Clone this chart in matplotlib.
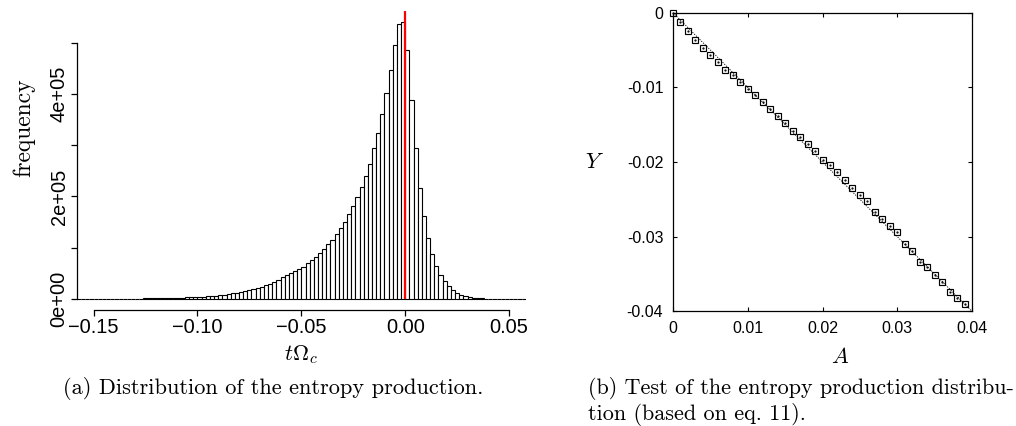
import numpy as np
import matplotlib
matplotlib.use("Agg")
import matplotlib.pyplot as plt

# histogram of t*Omega_c, bins of width 0.002 from -0.158 to 0.058
bin_lo = -0.158
bin_w = 0.002
counts = [
    145, 162, 182, 205, 230, 258, 290, 325, 365, 410,
    460, 515, 580, 650, 730, 820, 920, 1030, 1160, 1300,
    1470, 1650, 1850, 2100, 2350, 2600, 2950, 3300, 3700, 4200,
    4700, 5250, 5900, 6650, 7500, 8400, 9400, 10600, 11900, 13300,
    15000, 16800, 18900, 21200, 23800, 26700, 30000, 33500, 37500, 41800,
    46400, 49700, 53600, 58200, 62700, 69300, 75200, 81700, 88900, 96700,
    106500, 115700, 126100, 138600, 151000, 165400, 181000, 198000, 217600, 240500,
    264100, 294100, 324200, 361400, 400700, 446400, 495400, 536000, 540000, 485600,
    388200, 293500, 216300, 160800, 119600, 88200, 64000, 47000, 34000, 24800,
    17600, 12400, 8500, 5200, 3300, 2000, 1300, 900, 650, 450,
    320, 230, 160, 110, 80, 55, 40, 28,
]
hist_xticks = [-0.15, -0.10, -0.05, 0.00, 0.05]
hist_xlabels = ["\u22120.15", "\u22120.10", "\u22120.05", "0.00", "0.05"]
hist_yticks = [0, 100000, 200000, 300000, 400000, 500000]
hist_ylabels = ["0e+00", "", "2e+05", "", "4e+05", ""]

# entropy production test: Y against A
A = [0.000, 0.001, 0.002, 0.003, 0.004, 0.005, 0.006, 0.007, 0.008, 0.009,
     0.010, 0.011, 0.012, 0.013, 0.014, 0.015, 0.016, 0.017, 0.018, 0.019,
     0.020, 0.021, 0.022, 0.023, 0.024, 0.025, 0.026, 0.027, 0.028, 0.029,
     0.030, 0.031, 0.032, 0.033, 0.034, 0.035, 0.036, 0.037, 0.038, 0.039]
Y = [0.0, -0.00121, -0.00246, -0.00366, -0.00469, -0.00567, -0.00665, -0.00763, -0.00839, -0.00929,
     -0.01022, -0.01098, -0.01196, -0.01286, -0.01388, -0.01482, -0.01585, -0.01670, -0.01759, -0.01853,
     -0.01978, -0.02045, -0.02138, -0.02241, -0.02348, -0.02446, -0.02522, -0.02670, -0.02759, -0.02862,
     -0.02942, -0.03094, -0.03188, -0.03344, -0.03406, -0.03509, -0.03607, -0.03746, -0.03817, -0.03897]
line_A = [0.0, 0.04]
line_Y = [0.0, -0.04]
test_ticks_x = [0, 0.01, 0.02, 0.03, 0.04]
test_xlabels = ["0", "0.01", "0.02", "0.03", "0.04"]
test_ticks_y = [0, -0.01, -0.02, -0.03, -0.04]
test_ylabels = ["0", "-0.01", "-0.02", "-0.03", "-0.04"]

plt.rcParams["mathtext.fontset"] = "cm"
sans = "Liberation Sans"
W, H = 1016, 426
fig = plt.figure(figsize=(W / 100, H / 100), dpi=100)


def px_axes(x0, y0, x1, y1):
    return fig.add_axes([x0 / W, 1 - y1 / H, (x1 - x0) / W, (y1 - y0) / H])


# ---- (a) histogram
ax = px_axes(77, 11, 525.7, 310)
edges = bin_lo + bin_w * np.arange(len(counts))
ax.bar(edges, counts, width=bin_w, align="edge", color="white",
       edgecolor="black", linewidth=0.8)
ymax = max(counts) * 1.04
ax.set_xlim(-0.158, 0.058)
ax.set_ylim(-0.04 * max(counts), ymax)
ax.vlines(0, 0, ymax, color="red", linewidth=1.6, zorder=5)

for s in ("top", "right"):
    ax.spines[s].set_visible(False)
ax.spines["left"].set_bounds(0, 500000)
ax.spines["bottom"].set_bounds(-0.15, 0.05)
for s in ("left", "bottom"):
    ax.spines[s].set_linewidth(0.9)

ax.set_xticks(hist_xticks)
ax.set_xticklabels(hist_xlabels, fontfamily=sans, fontsize=14.4)
ax.set_yticks(hist_yticks)
ax.set_yticklabels(hist_ylabels, fontfamily=sans, fontsize=14.4,
                   rotation=90, va="center")
ax.tick_params(direction="out", length=4, width=0.9, pad=2)
ax.set_xlabel(r"$t\Omega_c$", fontsize=16, labelpad=4)
fig.text(24 / W, 1 - 128 / H, "frequency", family="cmr10", fontsize=17,
         rotation=90, ha="center", va="center")

# ---- (b) Y versus A
bx = px_axes(673, 12.7, 972, 311.3)
bx.plot(line_A, line_Y, color="black", linewidth=0.6, linestyle=(0, (1.5, 1.5)))
bx.plot(A, Y, linestyle="none", marker="s", markersize=5,
        markerfacecolor="none", markeredgecolor="black", markeredgewidth=0.85,
        clip_on=False, zorder=4)
bx.plot(A, Y, linestyle="none", marker=".", markersize=1.2, color="black",
        clip_on=False)
bx.set_xlim(0, 0.04)
bx.set_ylim(-0.04, 0)
bx.set_xticks(test_ticks_x)
bx.set_xticklabels(test_xlabels, fontfamily=sans, fontsize=11.5)
bx.set_yticks(test_ticks_y)
bx.set_yticklabels(test_ylabels, fontfamily=sans, fontsize=11.5)
bx.tick_params(direction="in", length=3, width=0.8, top=True, right=True, pad=7)
for s in bx.spines.values():
    s.set_linewidth(0.9)
fig.text(840 / W, 1 - 357 / H, r"$A$", fontsize=16, ha="center", va="center")
fig.text(594 / W, 1 - 162 / H, r"$Y$", fontsize=16, ha="center", va="center")

# ---- captions
fig.text(273 / W, 1 - 389 / H, "(a) Distribution of the entropy production.",
         family="cmr10", fontsize=16.1, ha="center", va="center")
fig.text(588 / W, 1 - 389 / H, "(b) Test of the entropy production distribu-",
         family="cmr10", fontsize=15.9, ha="left", va="center")
fig.text(588 / W, 1 - 414 / H, "tion (based on eq. 11).",
         family="cmr10", fontsize=15.9, ha="left", va="center")

fig.savefig("out.png", dpi=100)
